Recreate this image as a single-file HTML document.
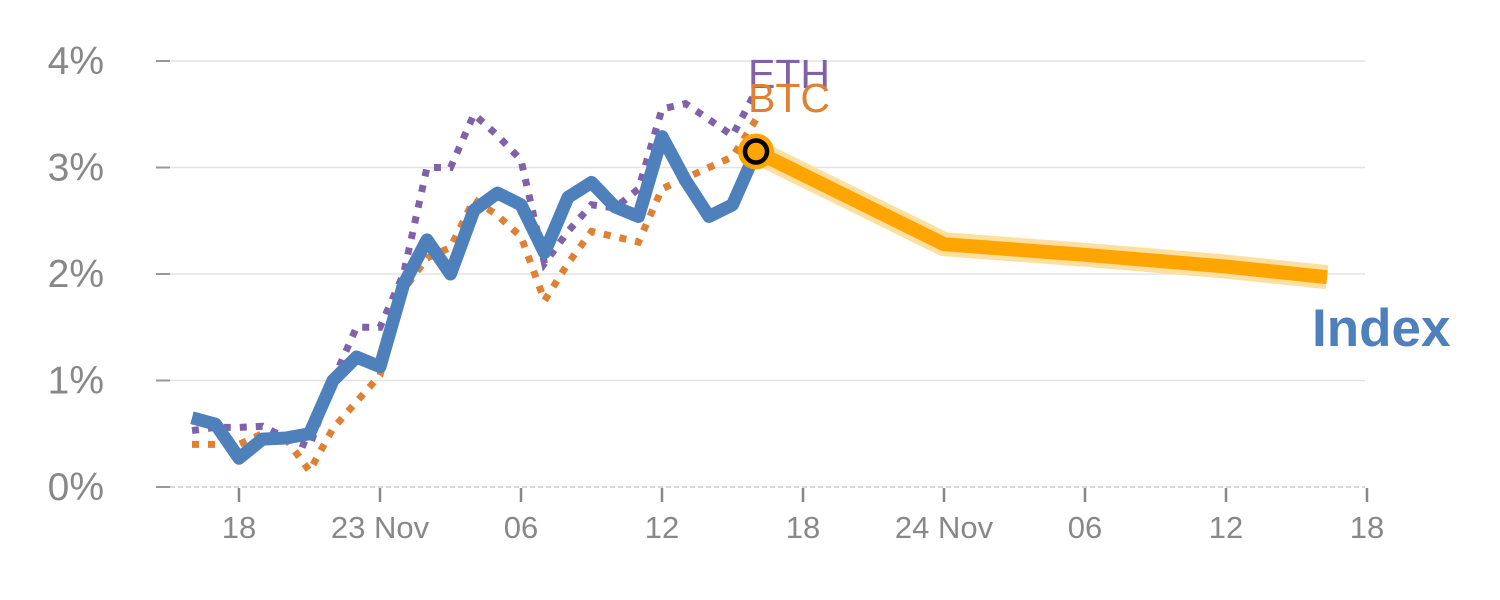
<!DOCTYPE html>
<html><head><meta charset="utf-8"><style>
body{margin:0;background:#fff;}
svg{display:block;font-family:"Liberation Sans",Arial,sans-serif;}
</style></head><body>
<svg id="chart" width="1500" height="600"></svg>
<script>
const xTickIdx=[2,8,14,20,26,32,38,44,50];
const xTickLabels=["18","23 Nov","06","12","18","24 Nov","06","12","18"];
const yTicks=[0,1,2,3,4];
const indexVals=[0.65,0.59,0.27,0.45,0.46,0.5,1.0,1.22,1.13,1.9,2.32,2.0,2.6,2.76,2.65,2.2,2.72,2.86,2.63,2.54,3.29,2.88,2.54,2.65,3.15];
const ethVals=[0.53,0.56,0.56,0.57,0.46,0.38,1.0,1.5,1.5,2.0,3.0,3.0,3.5,3.3,3.07,2.1,2.4,2.65,2.62,2.8,3.55,3.6,3.45,3.3,3.72];
const btcVals=[0.4,0.4,0.4,0.5,0.45,0.15,0.55,0.8,1.05,1.85,2.15,2.25,2.7,2.55,2.35,1.75,2.1,2.4,2.35,2.3,2.8,2.9,3.0,3.1,3.45];
const fcIdx=[24,32,38,44,48.3];
const fcVals=[3.15,2.28,2.18,2.07,1.97];
const X=i=>192+i*23.5;
const Y=v=>487-v*106.5;
const svg=document.getElementById('chart');
const NS='http://www.w3.org/2000/svg';
function mk(t,a){const e=document.createElementNS(NS,t);for(const k in a)e.setAttribute(k,a[k]);svg.appendChild(e);return e;}
yTicks.forEach(v=>{
  const g=mk('line',{x1:170,x2:1365,y1:Y(v),y2:Y(v),stroke:v===0?'#ccc':'#e4e4e4','stroke-width':1.5,'stroke-dasharray':v===0?'5,3':''});
  
  
  const tk=mk('line',{x1:156,x2:170,y1:Y(v),y2:Y(v),stroke:'#999','stroke-width':2});
  
  
  const t=mk('text',{x:104,y:Y(v)+13,'text-anchor':'end','font-size':39,fill:'#888'});
  t.textContent=v+'%';
  
  
});
xTickIdx.forEach((i,k)=>{
  const tk=mk('line',{x1:X(i),x2:X(i),y1:488,y2:502,stroke:'#888','stroke-width':2.5});
  
  
  const t=mk('text',{x:X(i),y:538,'text-anchor':'middle','font-size':31,fill:'#888'});
  t.textContent=xTickLabels[k];
  
  
});
const pts=(vals,off=0)=>vals.map((v,i)=>X(i+off)+','+Y(v)).join(' ');
const eth=mk('polyline',{points:pts(ethVals),fill:'none',stroke:'#8062a8','stroke-width':7,'stroke-dasharray':'7,9'});


const btc=mk('polyline',{points:pts(btcVals),fill:'none',stroke:'#e08032','stroke-width':7,'stroke-dasharray':'7,9'});


const idx=mk('polyline',{points:pts(indexVals),fill:'none',stroke:'#4e80bb','stroke-width':13,'stroke-linejoin':'round'});


const fp=fcIdx.map((i,k)=>X(i)+','+Y(fcVals[k])).join(' ');
const fcb=mk('polyline',{points:fp,fill:'none',stroke:'#ffdfa0','stroke-width':24,'stroke-linejoin':'round'});


const fc=mk('polyline',{points:fp,fill:'none',stroke:'#ffa500','stroke-width':14,'stroke-linejoin':'round'});


const c1=mk('circle',{cx:X(24),cy:Y(indexVals[24]),r:18,fill:'#ffa500'});


const c2=mk('circle',{cx:X(24),cy:Y(indexVals[24]),r:11,fill:'none',stroke:'#000','stroke-width':4.5});


const le=mk('text',{x:748,y:88,'font-size':41,fill:'#8062a8'});le.textContent='ETH';


const lb=mk('text',{x:748,y:112,'font-size':41,fill:'#e08032'});lb.textContent='BTC';


const li=mk('text',{x:1312,y:346,'font-size':53,'font-weight':'bold',fill:'#4e80bb'});li.textContent='Index';


</script>
</body></html>
